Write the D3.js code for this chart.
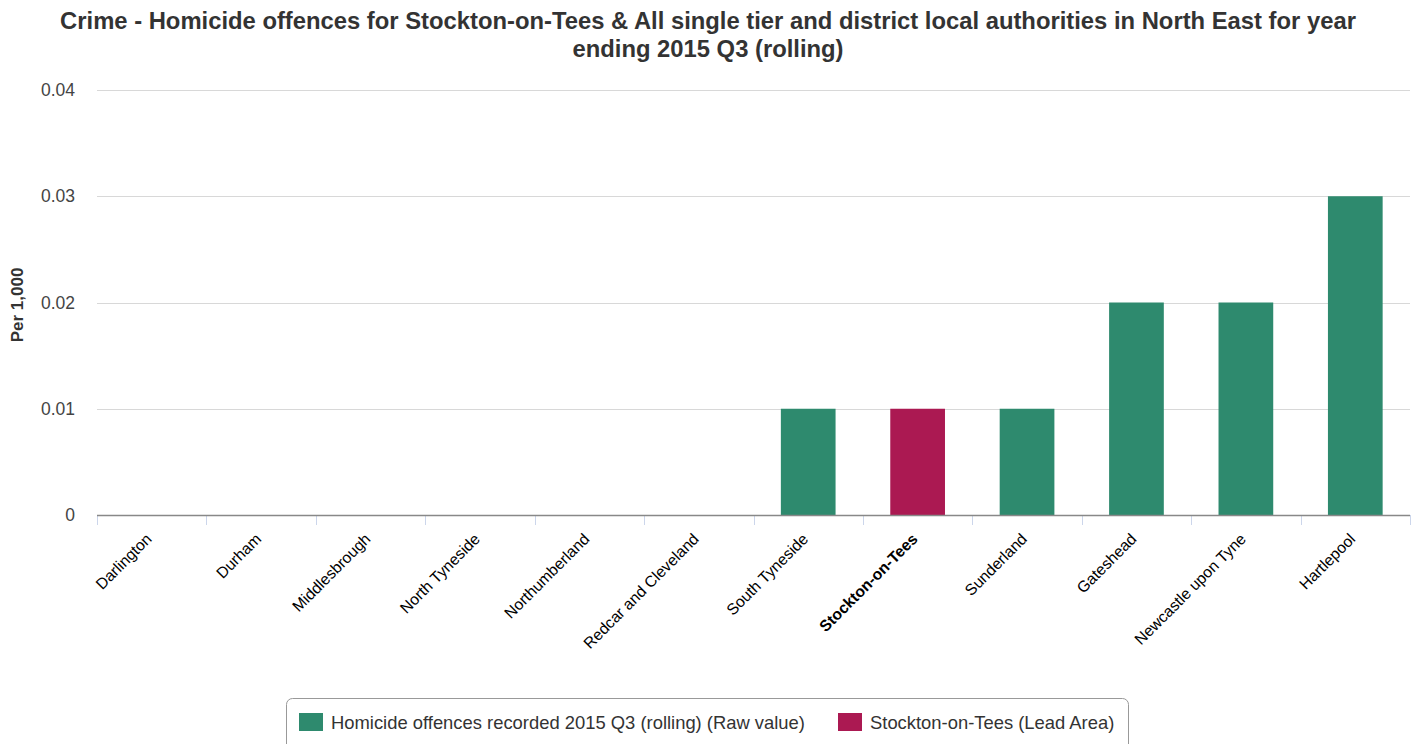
<!DOCTYPE html>
<html><head><meta charset="utf-8">
<script src="https://cdn.jsdelivr.net/npm/d3@7"></script>
<style>body{margin:0;background:#fff;} svg{font-family:"Liberation Sans",Arial,sans-serif;}</style>
</head><body>
<svg id="c" width="1420" height="744"></svg>
<script>
const categories = ["Darlington","Durham","Middlesbrough","North Tyneside","Northumberland","Redcar and Cleveland","South Tyneside","Stockton-on-Tees","Sunderland","Gateshead","Newcastle upon Tyne","Hartlepool"];
const values = [0,0,0,0,0,0,0.01,0.01,0.01,0.02,0.02,0.03];
const leadArea = "Stockton-on-Tees";
const yTicks = [0,0.01,0.02,0.03,0.04];
const yTickLabels = ["0","0.01","0.02","0.03","0.04"];
const titleLines = ["Crime - Homicide offences for Stockton-on-Tees & All single tier and district local authorities in North East for year","ending 2015 Q3 (rolling)"];
const seriesNames = ["Homicide offences recorded 2015 Q3 (rolling) (Raw value)","Stockton-on-Tees (Lead Area)"];
const colors = ["#2e8a6e","#ab1952"];

const svg = d3.select("#c");
const pLeft = 97, pRight = 1410, pTop = 90, pBottom = 515;
const x = d3.scaleBand().domain(categories).range([pLeft,pRight]).paddingInner(0).paddingOuter(0);
const y = d3.scaleLinear().domain([0,0.04]).range([pBottom,pTop]);

// title
svg.append("g").selectAll("text").data(titleLines).join("text")
  .attr("x",708).attr("y",(d,i)=>29+i*28).attr("text-anchor","middle")
  .attr("font-size",23.8).attr("font-weight","bold").attr("fill","#333").text(d=>d);

// grid
svg.append("g").selectAll("line").data(yTicks.filter(d=>d>0)).join("line")
  .attr("x1",pLeft).attr("x2",pRight).attr("y1",d=>Math.round(y(d))+0.5).attr("y2",d=>Math.round(y(d))+0.5)
  .attr("stroke","#d8d8d8").attr("stroke-width",1);

// y labels
svg.append("g").selectAll("text").data(yTicks).join("text")
  .attr("x",75).attr("y",d=>y(d)+6).attr("text-anchor","end")
  .attr("font-size",17.5).attr("fill","#444").text((d,i)=>yTickLabels[i]);

svg.append("text").attr("transform","translate(23,305) rotate(-90)").attr("text-anchor","middle")
  .attr("font-size",17).attr("font-weight","bold").attr("fill","#333").text("Per 1,000");

// bars
svg.append("g").selectAll("rect").data(categories).join("rect")
  .attr("x",d=>x(d)+x.bandwidth()*0.25).attr("width",x.bandwidth()*0.5)
  .attr("y",(d,i)=>y(values[i])).attr("height",(d,i)=>y(0)-y(values[i]))
  .attr("fill",d=>d===leadArea?colors[1]:colors[0]);

// x axis
const xa = svg.append("g");
const bounds = categories.map(d=>x(d)).concat([pRight]);
xa.selectAll("line.t").data(bounds).join("line").attr("class","t")
  .attr("x1",d=>Math.round(d)+0.5).attr("x2",d=>Math.round(d)+0.5).attr("y1",pBottom).attr("y2",pBottom+10)
  .attr("stroke","#ccd6eb");
xa.append("line").attr("x1",pLeft).attr("x2",pRight).attr("y1",pBottom+0.5).attr("y2",pBottom+0.5).attr("stroke","#888").attr("stroke-width",1.3);
xa.selectAll("text").data(categories).join("text")
  .attr("transform",d=>`translate(${x(d)+x.bandwidth()/2+1},${pBottom+25}) rotate(-45)`)
  .attr("text-anchor","end").attr("font-size",15.7).attr("fill","#000")
  .attr("font-weight",d=>d===leadArea?"bold":"normal").text(d=>d);

// legend
const lg = svg.append("g");
lg.append("rect").attr("x",286.5).attr("y",698.5).attr("width",842).attr("height",60).attr("rx",6)
  .attr("fill","none").attr("stroke","#999");
const items = [{x:299,name:seriesNames[0],c:colors[0]},{x:838,name:seriesNames[1],c:colors[1]}];
items.forEach(it=>{
  lg.append("rect").attr("x",it.x).attr("y",713).attr("width",24).attr("height",18).attr("fill",it.c);
  lg.append("text").attr("x",it.x+32).attr("y",729).attr("font-size",18.4).attr("fill","#333").text(it.name);
});
</script>
</body></html>
